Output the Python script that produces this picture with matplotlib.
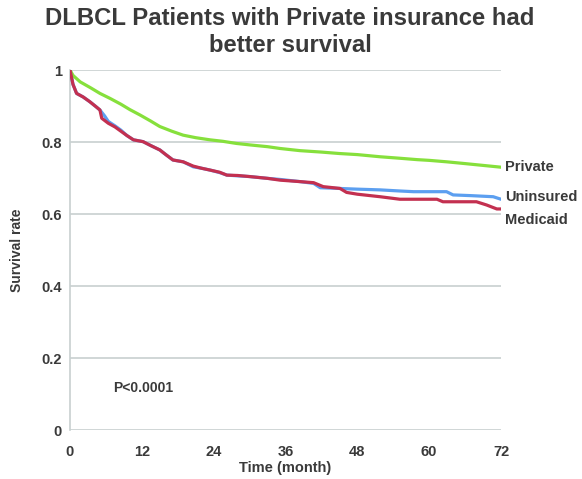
import matplotlib
matplotlib.use("Agg")
import matplotlib.pyplot as plt

plt.rcParams['font.family'] = ['Liberation Sans', 'DejaVu Sans']

title = "DLBCL Patients with Private insurance had\nbetter survival"
x_ticks = [0, 12, 24, 36, 48, 60, 72]
y_ticks = [0, 0.2, 0.4, 0.6, 0.8, 1.0]
y_tick_labels = ["0", "0.2", "0.4", "0.6", "0.8", "1"]

# Kaplan-Meier survival estimates by insurance status (months, survival)
private_t = [0, 0.5, 1.7, 3.5, 5, 6.7, 8.5, 10, 11.7, 13.5, 15, 17, 18.9, 21, 23.4,
             25.5, 27.8, 30, 33, 35.1, 38.4, 42, 45, 48, 51.8, 55, 58, 60, 62.9, 66, 69, 72]
private_s = [1.0, 0.985, 0.967, 0.950, 0.935, 0.921, 0.905, 0.890, 0.875, 0.858, 0.843,
             0.830, 0.819, 0.812, 0.806, 0.802, 0.796, 0.792, 0.787, 0.782, 0.776, 0.772,
             0.768, 0.765, 0.759, 0.755, 0.751, 0.749, 0.745, 0.740, 0.735, 0.730]

uninsured_t = [0, 0.5, 1.1, 2.2, 3.3, 4.2, 5, 5.8, 6.4, 7.5, 8.5, 9.5, 10.6, 12.2, 13.5,
               15, 16, 17.2, 18.9, 20.6, 22, 23.4, 25, 26.2, 28, 30, 33, 35.1, 38.4, 40.7,
               41.8, 45, 48, 51.8, 55, 57.4, 60, 62.9, 64, 67, 70.7, 72]
uninsured_s = [1.0, 0.960, 0.935, 0.925, 0.912, 0.900, 0.889, 0.872, 0.857, 0.845, 0.833,
               0.818, 0.806, 0.801, 0.790, 0.778, 0.765, 0.750, 0.745, 0.731, 0.727, 0.722,
               0.715, 0.708, 0.706, 0.704, 0.699, 0.696, 0.690, 0.685, 0.673, 0.671, 0.669,
               0.667, 0.664, 0.662, 0.662, 0.662, 0.653, 0.651, 0.648, 0.641]

medicaid_t = [0, 0.5, 1.1, 2.2, 3.3, 4.2, 5, 5.3, 6.4, 7.5, 8.5, 9.5, 10.6, 12.2, 13.5,
              15, 16, 17.2, 18.9, 20.6, 22, 23.4, 25, 26.2, 28, 30, 33, 35.1, 38.4, 40.7,
              42.3, 45.1, 46.2, 48, 51.8, 55.1, 58, 61.3, 62.3, 65, 67.9, 69.6, 71.3, 72]
medicaid_s = [1.0, 0.960, 0.935, 0.925, 0.912, 0.900, 0.889, 0.866, 0.852, 0.842, 0.830,
              0.818, 0.806, 0.801, 0.790, 0.778, 0.765, 0.750, 0.745, 0.733, 0.727, 0.722,
              0.716, 0.708, 0.707, 0.704, 0.699, 0.694, 0.690, 0.687, 0.676, 0.671, 0.660,
              0.655, 0.648, 0.641, 0.641, 0.641, 0.634, 0.634, 0.634, 0.625, 0.614, 0.614]

series = [
    ("Uninsured", uninsured_t, uninsured_s, "#5c9ff0"),
    ("Private", private_t, private_s, "#86e03c"),
    ("Medicaid", medicaid_t, medicaid_s, "#c33050"),
]

text_color = "#3a3a3a"
grid_color = "#c8d0d0"

fig = plt.figure(figsize=(5.82, 4.79), dpi=100)
ax = fig.add_axes([70 / 582, 1 - 430 / 479, 431 / 582, 360 / 479])

for name, t, s, color in series:
    ax.plot(t, s, color=color, lw=2.3, solid_joinstyle="round", zorder=3)

ax.set_xlim(0, 72)
ax.set_ylim(0, 1)
ax.set_xticks(x_ticks)
ax.set_yticks(y_ticks)
ax.set_yticklabels(y_tick_labels)
ax.tick_params(axis="both", length=0, labelsize=10.5, labelcolor=text_color)
ax.tick_params(axis="x", pad=11)
ax.tick_params(axis="y", pad=6)
for lbl in ax.get_xticklabels() + ax.get_yticklabels():
    lbl.set_fontweight("bold")

for y in y_ticks:
    ax.axhline(y, color=grid_color, lw=1.2, zorder=1)
for side in ["top", "right", "bottom"]:
    ax.spines[side].set_visible(False)
ax.spines["left"].set_color(grid_color)
ax.spines["left"].set_linewidth(1.2)

ax.set_xlabel("Time (month)", fontsize=10.5, fontweight="bold", color=text_color, labelpad=1)
ax.set_ylabel("Survival rate", fontsize=10, fontweight="bold", color=text_color, labelpad=12)

# end-of-curve labels
label_offsets = {"Private": 0.0, "Uninsured": 0.005, "Medicaid": -0.03}
for name, t, s, color in series:
    ax.annotate(name, xy=(t[-1], s[-1] + label_offsets[name]), xytext=(3, 0),
                textcoords="offset points", va="center", ha="left",
                fontsize=10.5, fontweight="bold", color=text_color, annotation_clip=False)

ax.text(7.2, 0.117, "P<0.0001", fontsize=10, fontweight="bold", color=text_color,
        va="center", ha="left")

fig.suptitle(title, x=290 / 582, y=1 - 7 / 479, va="top", fontsize=17.2, fontweight="bold",
             color=text_color, linespacing=1.25)

fig.savefig("out.png", dpi=100, facecolor="white")
